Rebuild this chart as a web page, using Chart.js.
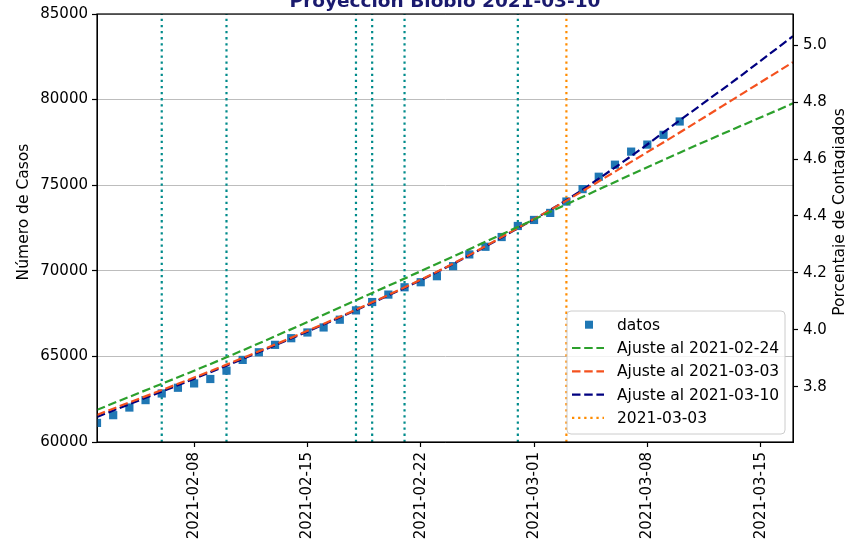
<!DOCTYPE html>
<html lang="es">
<head>
<meta charset="UTF-8">
<title>Proyección Biobío 2021-03-10</title>
<script src="https://cdn.jsdelivr.net/npm/chart.js"></script>
<style>
  html, body { margin: 0; padding: 0; background: #fff; overflow: hidden; }
  body { width: 845px; height: 541px; position: relative; }
  #grafico { position: absolute; left: 0; top: -9px; width: 845px; height: 572px; }
</style>
</head>
<body>
<div id="grafico"><canvas id="proyeccion"></canvas></div>
<script>
// datos diarios (casos acumulados)
const fechas = ['2021-02-02','2021-02-03','2021-02-04','2021-02-05','2021-02-06','2021-02-07','2021-02-08',
  '2021-02-09','2021-02-10','2021-02-11','2021-02-12','2021-02-13','2021-02-14','2021-02-15','2021-02-16',
  '2021-02-17','2021-02-18','2021-02-19','2021-02-20','2021-02-21','2021-02-22','2021-02-23','2021-02-24',
  '2021-02-25','2021-02-26','2021-02-27','2021-02-28','2021-03-01','2021-03-02','2021-03-03','2021-03-04',
  '2021-03-05','2021-03-06','2021-03-07','2021-03-08','2021-03-09','2021-03-10'];
const casos = [61115, 61567, 62013, 62447, 62835, 63169, 63422, 63680, 64167, 64795, 65241, 65675, 66063,
  66397, 66691, 67143, 67688, 68176, 68610, 69038, 69332, 69684, 70271, 70957, 71404, 71973, 72618, 72970,
  73381, 74045, 74772, 75494, 76198, 76961, 77372, 77942, 78722];

// curvas de ajuste
const fechasAjuste24 = ['2021-02-02','2021-02-10','2021-02-19','2021-02-28','2021-03-03','2021-03-10','2021-03-17'];
const ajuste24 = [61878, 64950, 68700, 72560, 73880, 76900, 79779];
const fechasAjuste = ['2021-02-02','2021-02-10','2021-02-19','2021-02-24','2021-02-28','2021-03-03',
  '2021-03-07','2021-03-10','2021-03-14','2021-03-17'];
const ajuste03 = [61585, 64519, 68158, 70420, 72500, 74100, 76363, 78078, 80425, 82185];
const ajuste10 = [61467, 64460, 68128, 70400, 72480, 74130, 76700, 78781, 81550, 83711];

const lineasVerticales = ['2021-02-06','2021-02-10','2021-02-18','2021-02-19','2021-02-21','2021-02-28'];
const fechaCorte = '2021-03-03';

const ticksX = ['2021-02-08','2021-02-15','2021-02-22','2021-03-01','2021-03-08','2021-03-15'];
const limiteX = '2021-03-17';
const yMin = 60000, yMax = 85000, yPaso = 5000;
const ticksPct = [3.8, 4.0, 4.2, 4.4, 4.6, 4.8, 5.0];
const poblacion = 1663696;

const titulo = 'Proyección Biobío 2021-03-10';
const tituloY = 'Número de Casos';
const tituloY2 = 'Porcentaje de Contagiados';

const base = Date.parse(fechas[0]);
const dia = s => (Date.parse(s) - base) / 86400000;
const pares = (fs, vs) => fs.map((f, i) => ({ x: dia(f), y: vs[i] }));

Chart.defaults.font.family = 'DejaVu Sans';
Chart.defaults.font.size = 15;
Chart.defaults.color = '#000';

const dash = [8.5, 3.7];
const dot = [2.3, 3.8];

const datasets = [
  { label: 'Ajuste al 2021-02-24', enLeyenda: 2, data: pares(fechasAjuste24, ajuste24), showLine: true,
    borderColor: '#2ca02c', borderDash: dash, borderWidth: 2.2, pointRadius: 0, cubicInterpolationMode: 'monotone', order: 1 },
  { label: 'Ajuste al 2021-03-03', enLeyenda: 3, data: pares(fechasAjuste, ajuste03), showLine: true,
    borderColor: '#f4511e', borderDash: dash, borderWidth: 2.2, pointRadius: 0, cubicInterpolationMode: 'monotone', order: 1 },
  { label: 'Ajuste al 2021-03-10', enLeyenda: 4, data: pares(fechasAjuste, ajuste10), showLine: true,
    borderColor: '#000080', borderDash: dash, borderWidth: 2.2, pointRadius: 0, cubicInterpolationMode: 'monotone', order: 1 },
  { label: 'datos', enLeyenda: 1, data: pares(fechas, casos), showLine: false,
    pointStyle: 'rect', pointRadius: 5.8, backgroundColor: '#1f77b4', borderColor: '#1f77b4', borderWidth: 0, order: 2 },
  { label: fechaCorte, enLeyenda: 5, data: [{ x: dia(fechaCorte), y: yMin }, { x: dia(fechaCorte), y: yMax }], showLine: true,
    borderColor: '#ff8c00', borderDash: dot, borderWidth: 2.2, pointRadius: 0, order: 3 }
];
lineasVerticales.forEach(f => datasets.push({
  data: [{ x: dia(f), y: yMin }, { x: dia(f), y: yMax }], showLine: true,
  borderColor: '#008b8b', borderDash: dot, borderWidth: 2.2, pointRadius: 0, order: 3
}));

// marco, titulos de ejes y leyenda al estilo matplotlib
const extras = {
  id: 'extras',
  afterDraw(chart) {
    const ctx = chart.ctx, a = chart.chartArea;
    ctx.save();
    ctx.strokeStyle = '#000';
    ctx.lineWidth = 1.2;
    ctx.setLineDash([]);
    ctx.strokeRect(a.left, a.top, a.right - a.left, a.bottom - a.top);

    ctx.fillStyle = '#000';
    ctx.font = '15.5px "DejaVu Sans"';
    ctx.textAlign = 'center';
    ctx.textBaseline = 'middle';
    const yc = (a.top + a.bottom) / 2 - 16;
    [[24, tituloY], [840, tituloY2]].forEach(([x, t]) => {
      ctx.save();
      ctx.translate(x, yc);
      ctx.rotate(-Math.PI / 2);
      ctx.fillText(t, 0, 0);
      ctx.restore();
    });

    const items = chart.data.datasets.filter(d => d.enLeyenda).sort((p, q) => p.enLeyenda - q.enLeyenda);
    const w = 218, h = 123, fila = 23.3;
    const x0 = a.right - 8 - w, y0 = a.bottom - 8 - h;
    ctx.beginPath();
    if (ctx.roundRect) ctx.roundRect(x0, y0, w, h, 4); else ctx.rect(x0, y0, w, h);
    ctx.fillStyle = 'rgba(255,255,255,0.8)';
    ctx.fill();
    ctx.strokeStyle = '#cccccc';
    ctx.lineWidth = 1;
    ctx.stroke();
    ctx.textAlign = 'left';
    items.forEach((d, i) => {
      const cy = y0 + 13.7 + i * fila;
      if (d.showLine === false) {
        ctx.fillStyle = d.backgroundColor;
        ctx.fillRect(x0 + 22 - 4, cy - 4, 8, 8);
      } else {
        ctx.beginPath();
        ctx.setLineDash(d.borderDash);
        ctx.strokeStyle = d.borderColor;
        ctx.lineWidth = d.borderWidth;
        ctx.moveTo(x0 + 5, cy);
        ctx.lineTo(x0 + 37, cy);
        ctx.stroke();
        ctx.setLineDash([]);
      }
      ctx.fillStyle = '#000';
      ctx.fillText(d.label, x0 + 50, cy + 1);
    });
    ctx.restore();
  }
};

new Chart(document.getElementById('proyeccion'), {
  type: 'scatter',
  data: { datasets },
  plugins: [extras],
  options: {
    responsive: true,
    maintainAspectRatio: false,
    animation: false,
    layout: { padding: 0 },
    plugins: {
      legend: { display: false },
      tooltip: { enabled: false },
      title: {
        display: true, text: titulo, fullSize: false, color: '#1a1a6e',
        font: { size: 18.5, weight: 'bold', lineHeight: 1.2 }, padding: { top: 0, bottom: 0.8 }
      }
    },
    scales: {
      x: {
        type: 'linear', min: 0, max: dia(limiteX),
        afterBuildTicks: s => { s.ticks = ticksX.map(f => ({ value: dia(f) })); },
        afterFit: s => { s.height = 121; },
        ticks: {
          autoSkip: false, minRotation: 90, maxRotation: 90, padding: 5,
          callback: v => new Date(base + v * 86400000).toISOString().slice(0, 10)
        },
        grid: { drawOnChartArea: false, drawTicks: true, tickLength: 5, tickColor: '#000', tickWidth: 1.2 },
        border: { color: '#000' }
      },
      y: {
        position: 'left', min: yMin, max: yMax,
        afterFit: s => { s.width = 97; },
        ticks: { stepSize: yPaso, padding: 4, callback: v => String(v) },
        grid: { color: '#bdbdbd', lineWidth: 1, tickLength: 5, tickColor: '#000', tickWidth: 1.2 },
        border: { color: '#000' }
      },
      y2: {
        position: 'right', min: yMin / poblacion * 100, max: yMax / poblacion * 100,
        afterFit: s => { s.width = 52; },
        afterBuildTicks: s => { s.ticks = ticksPct.map(v => ({ value: v })); },
        ticks: { padding: 5, callback: v => v.toFixed(1) },
        grid: { drawOnChartArea: false, tickLength: 5, tickColor: '#000', tickWidth: 1.2 },
        border: { color: '#000' }
      }
    }
  }
});
</script>
</body>
</html>
